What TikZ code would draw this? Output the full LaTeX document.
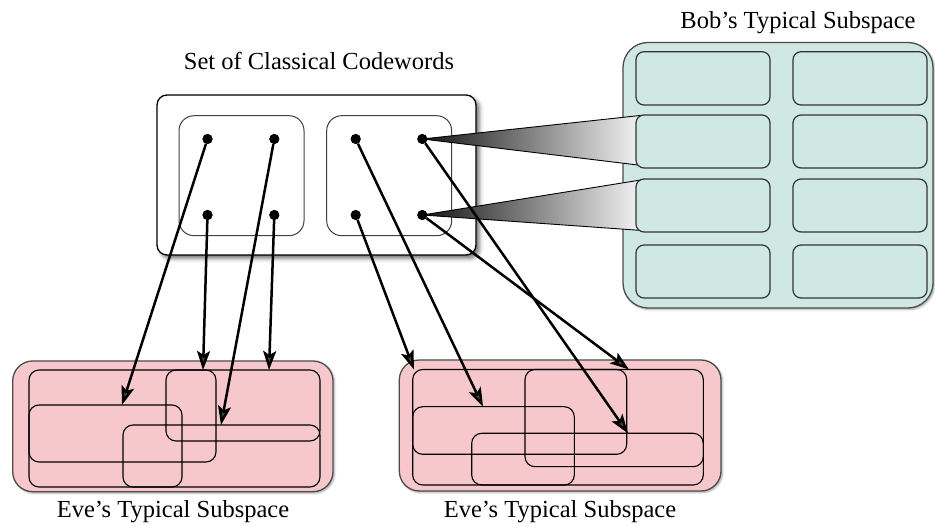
\documentclass[tikz,border=0pt]{standalone}
\usepackage{fontspec}
\setmainfont{Liberation Serif}
\usetikzlibrary{arrows.meta,shadows.blur}

\definecolor{bobfill}{HTML}{CFE8E3}
\definecolor{evefill}{HTML}{F7C8CB}

\begin{document}
\begin{tikzpicture}[x=1pt,y=-1pt,
  lbl/.style={font=\fontsize{24.5}{28}\selectfont, anchor=base, inner sep=0pt},
  dot/.style={circle, fill=black, inner sep=0pt, minimum size=10pt},
  arr/.style={line width=2.5pt, -{Stealth[length=19pt,width=13pt,inset=4pt]}},
  sub/.style={draw=black, line width=1.1pt, rounded corners=10pt},
  cwbox/.style={draw=black!75, line width=1pt, rounded corners=15pt},
  cell/.style={draw=black!80, line width=1.2pt, rounded corners=8pt, fill=bobfill},
  cone/.style={draw=black, line width=0.9pt, left color=black!92, right color=black!4},
  evebox/.style={draw=black!70, line width=1.3pt, fill=evefill, rounded corners=20pt,
    blur shadow={shadow xshift=1.5pt, shadow yshift=-1.5pt, shadow blur radius=2pt, shadow opacity=35}},
  bobbox/.style={draw=black!70, line width=1.3pt, fill=bobfill, rounded corners=25pt,
    blur shadow={shadow xshift=1.5pt, shadow yshift=-1.5pt, shadow blur radius=2pt, shadow opacity=35}},
]
\useasboundingbox (0,0) rectangle (935,526);

% ---------- labels ----------
\node[lbl] (lset) at (319,70) {Set of Classical Codewords};
\node[lbl] (lbob) at (798,29) {Bob’s Typical Subspace};
\node[lbl] (leve1) at (173,518) {Eve’s Typical Subspace};
\node[lbl] (leve2) at (560,518) {Eve’s Typical Subspace};

% ---------- Eve's subspace 1 ----------
\path[evebox] (12.7,361) rectangle (333,491.7);
\draw[sub] (29,405) rectangle (182,487);
\draw[sub] (29,370) rectangle (216,462);
\draw[sub] (123,425) rectangle (320,487);
\draw[sub] (166,370) rectangle (320,441);

% ---------- Eve's subspace 2 ----------
\path[evebox] (399.3,360) rectangle (721,491);
\draw[sub] (412.7,406.7) rectangle (574.3,485);
\draw[sub] (412.7,369.5) rectangle (626.7,454.3);
\draw[sub] (471.7,433.3) rectangle (703.3,485);
\draw[sub] (525,369.5) rectangle (703.3,466.7);

% ---------- Bob's subspace ----------
\path[bobbox] (623,42.5) rectangle (933,308);

% ---------- codeword set ----------
\draw[fill=white, line width=1.3pt, rounded corners=10pt,
  blur shadow={shadow xshift=3.5pt, shadow yshift=-3.5pt, shadow blur radius=4pt, shadow opacity=55}]
  (157,95) rectangle (476,255);
\draw[cwbox] (179,115.7) rectangle (304,235.7);
\draw[cwbox] (326.7,115.7) rectangle (451.7,235.7);

\node[dot] (a1) at (207.5,139) {};
\node[dot] (a2) at (274.3,139) {};
\node[dot] (a3) at (207.5,215) {};
\node[dot] (a4) at (274.3,215) {};
\node[dot] (b1) at (355.7,139) {};
\node[dot] (b2) at (422.3,139) {};
\node[dot] (b3) at (355.7,215) {};
\node[dot] (b4) at (422.3,215) {};

% ---------- cones to Bob ----------
\coordinate (c1t) at (642,115.3);
\coordinate (c1b) at (642,165.5);
\coordinate (c2t) at (642,179.8);
\coordinate (c2b) at (642,230.5);
\path[cone] (b2.center) -- (c1t) -- (c1b) -- cycle;
\path[cone] (b4.center) -- (c2t) -- (c2b) -- cycle;

% ---------- Bob's cells ----------
\foreach \y/\h in {51.7/105, 115/168, 179/232, 245/298}{
  \draw[cell] (636,\y) rectangle (770,\h);
  \draw[cell] (793,\y) rectangle (927,\h);
}

% ---------- arrow targets ----------
\coordinate (e1) at (122,405);
\coordinate (e2) at (203,370);
\coordinate (e3) at (221,425);
\coordinate (e4) at (269,370);
\coordinate (f1) at (483,406.7);
\coordinate (f2) at (628,433.3);
\coordinate (f3) at (414,369.5);
\coordinate (f4) at (629,369.5);

\draw[arr] (a1) -- (e1);
\draw[arr] (a3) -- (e2);
\draw[arr] (a2) -- (e3);
\draw[arr] (a4) -- (e4);
\draw[arr] (b1) -- (f1);
\draw[arr] (b2) -- (f2);
\draw[arr] (b3) -- (f3);
\draw[arr] (b4) -- (f4);

% redraw dots on top
\foreach \n in {a1,a2,a3,a4,b1,b2,b3,b4}{ \fill (\n) circle (5pt); }
\end{tikzpicture}
\end{document}
